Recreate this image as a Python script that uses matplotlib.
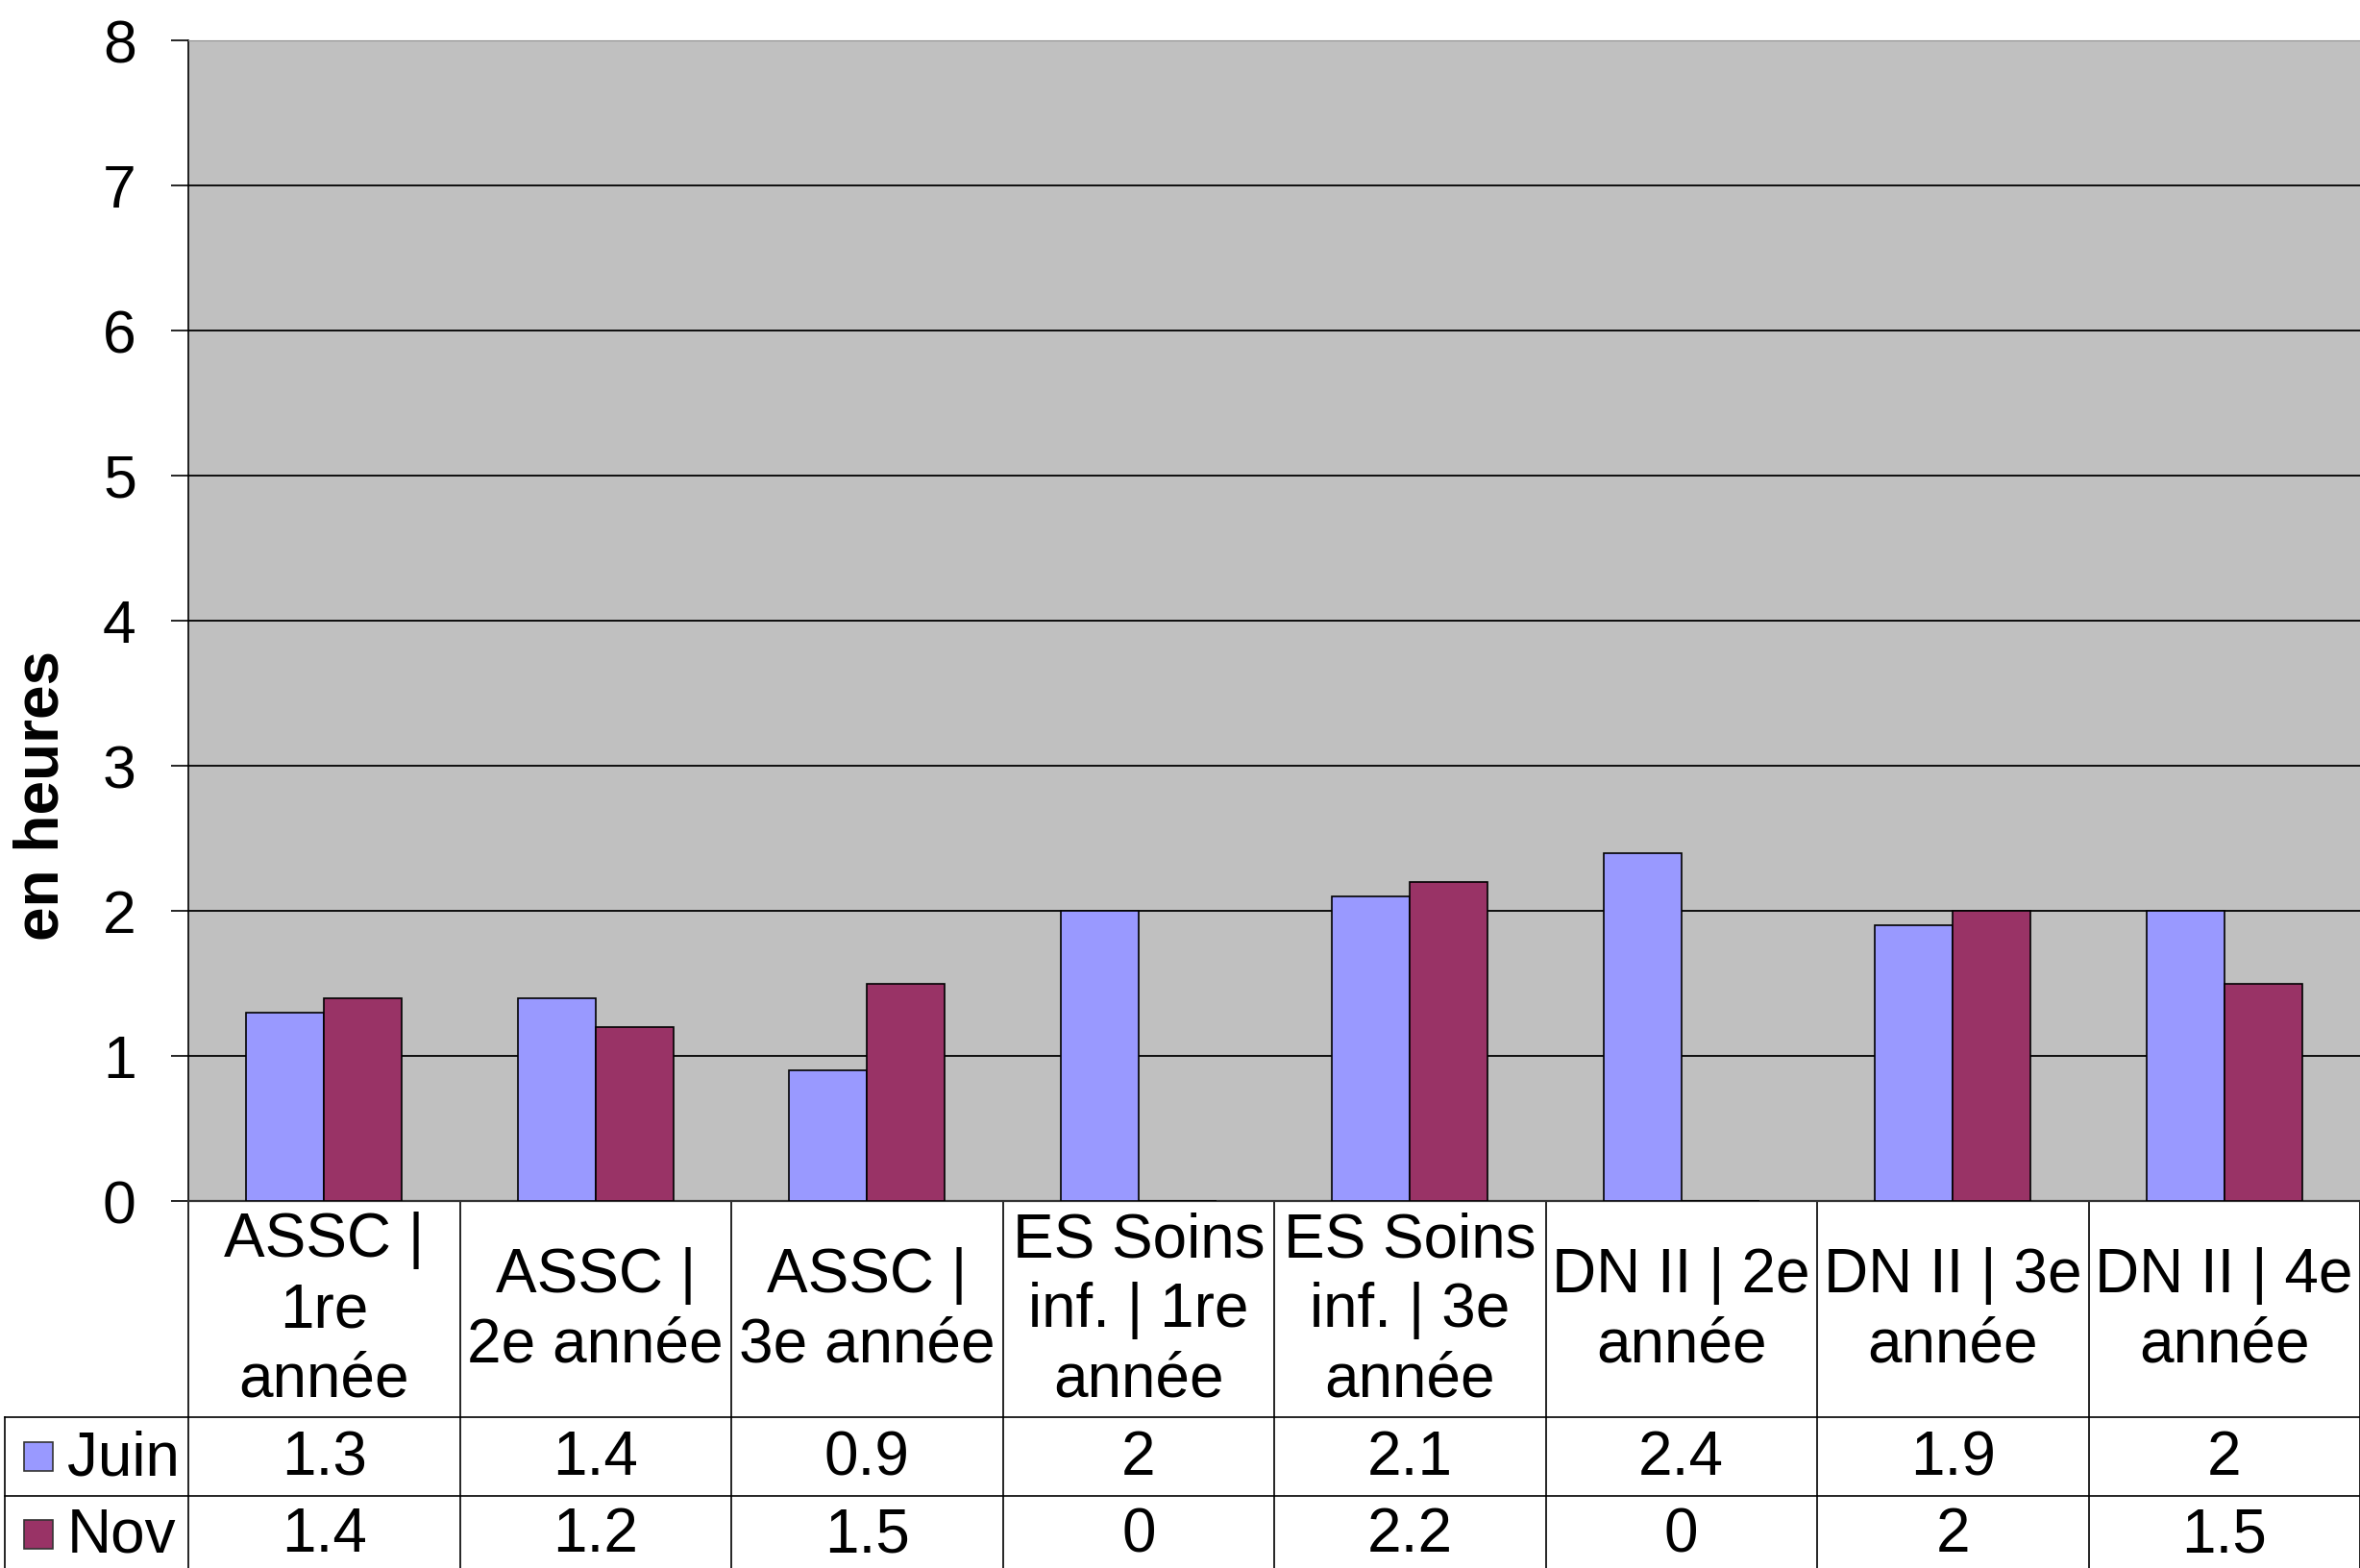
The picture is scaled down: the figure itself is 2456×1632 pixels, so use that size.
import matplotlib
matplotlib.use("Agg")
import matplotlib.pyplot as plt
from matplotlib.patches import Rectangle
import numpy as np

plt.rcParams['font.family'] = ['Liberation Sans', 'DejaVu Sans']

# data
categories = ["ASSC |\n1re\nannée", "ASSC |\n2e année", "ASSC |\n3e année",
              "ES Soins\ninf. | 1re\nannée", "ES Soins\ninf. | 3e\nannée",
              "DN II | 2e\nannée", "DN II | 3e\nannée", "DN II | 4e\nannée"]
juin = [1.3, 1.4, 0.9, 2, 2.1, 2.4, 1.9, 2]
nov = [1.4, 1.2, 1.5, 0, 2.2, 0, 2, 1.5]
juin_lbl = ["1.3", "1.4", "0.9", "2", "2.1", "2.4", "1.9", "2"]
nov_lbl = ["1.4", "1.2", "1.5", "0", "2.2", "0", "2", "1.5"]
series = ["Juin", "Nov"]
colors = ["#9999FF", "#993366"]

W, H = 2456, 1632
fig = plt.figure(figsize=(W / 100, H / 100), dpi=100)

left_px, top_px, zero_px = 196, 42, 1250
ax = fig.add_axes([left_px / W, 1 - zero_px / H, 1 - left_px / W, (zero_px - top_px) / H])
ax.set_facecolor("#C0C0C0")

x = np.arange(len(categories))
bw = 0.287
ax.bar(x - bw / 2, juin, bw, color=colors[0], edgecolor="black", linewidth=1.2, zorder=3)
ax.bar(x + bw / 2, nov, bw, color=colors[1], edgecolor="black", linewidth=1.2, zorder=3)

ax.set_xlim(-0.5, 7.5)
ax.set_ylim(0, 8)
ax.set_yticks(range(0, 9))
ax.set_xticks([])
ax.grid(axis="y", color="black", linewidth=1.3, zorder=1)
ax.tick_params(axis="y", direction="out", length=13, width=1.2, pad=26, labelsize=45)
ax.spines["right"].set_visible(False)
ax.spines["top"].set_color("#909090")
ax.spines["left"].set_linewidth(1.2)
ax.spines["bottom"].set_linewidth(1.6)
ax.spines["bottom"].set_color("#333333")

fig.text(44 / W, 1 - 828 / H, "en heures", rotation=90, ha="center", va="center",
         fontsize=46, fontweight="bold")

# data table under the axis
ah = zero_px - top_px
aw = W - left_px
def fy(px):
    return (zero_px - px) / ah
def fx(px):
    return (px - left_px) / aw

y_cat, y_juin, y_bot = fy(1475), fy(1557), fy(1640)
trans = ax.get_xaxis_transform()
lk = dict(color="black", linewidth=1.2, clip_on=False)
for b in np.arange(-0.5, 8.0, 1.0):
    ax.plot([b, b], [0, y_bot], transform=trans, **lk)
ax.plot([fx(5), 1], [y_cat, y_cat], transform=ax.transAxes, **lk)
ax.plot([fx(5), 1], [y_juin, y_juin], transform=ax.transAxes, **lk)
ax.plot([fx(5), fx(5)], [y_cat, y_bot], transform=ax.transAxes, **lk)

fs = 46
for i, c in enumerate(categories):
    ax.text(i, fy(1364), c, transform=trans, ha="center", va="center",
            fontsize=fs, linespacing=1.27, clip_on=False)
    ax.text(i, fy(1518), juin_lbl[i], transform=trans, ha="center", va="center",
            fontsize=fs, clip_on=False)
    ax.text(i, fy(1598), nov_lbl[i], transform=trans, ha="center", va="center",
            fontsize=fs, clip_on=False)

for k, (name, ypx) in enumerate(zip(series, [1516, 1597])):
    sq = 30
    ax.add_patch(Rectangle((fx(25), fy(ypx + sq / 2)), sq / aw, sq / ah,
                           transform=ax.transAxes, facecolor=colors[k],
                           edgecolor="#333333", linewidth=1.2, clip_on=False))
    ax.text(fx(70), fy(ypx + 2), name, transform=ax.transAxes, ha="left", va="center",
            fontsize=fs, clip_on=False)

fig.savefig("out.png", dpi=100)
